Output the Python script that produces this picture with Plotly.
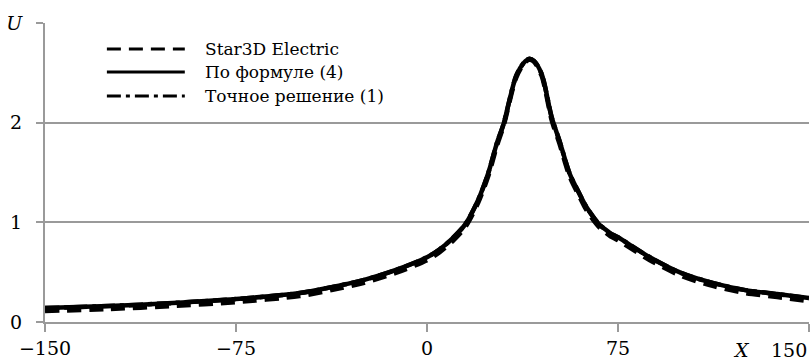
import plotly.graph_objects as go

# ---- data ----
x_vals = [-150, -125, -100, -75, -50, -37.5, -25, -12.5, 0, 5, 10, 15, 20, 24, 27.5, 30,
          35, 38, 40, 42, 45, 49, 52, 56, 60, 62, 64, 66, 68, 70, 72, 75, 87.5, 100, 112.5,
          125, 137.5, 150]

star3d = [0.11, 0.13, 0.16, 0.20, 0.26, 0.32, 0.39, 0.49, 0.62, 0.70, 0.81, 0.95, 1.19, 1.46,
          1.77, 1.96, 2.45, 2.59, 2.63, 2.61, 2.47, 2.02, 1.79, 1.46, 1.25, 1.15, 1.07, 1.00,
          0.94, 0.90, 0.86, 0.82, 0.62, 0.46, 0.36, 0.29, 0.25, 0.21]

formula4 = [0.14, 0.16, 0.19, 0.23, 0.29, 0.35, 0.42, 0.52, 0.65, 0.73, 0.84, 0.98, 1.22, 1.49,
            1.80, 1.98, 2.47, 2.60, 2.64, 2.62, 2.49, 2.05, 1.82, 1.49, 1.28, 1.18, 1.10, 1.03,
            0.97, 0.93, 0.89, 0.85, 0.65, 0.49, 0.39, 0.32, 0.28, 0.24]

exact1 = [0.14, 0.16, 0.19, 0.23, 0.29, 0.35, 0.42, 0.52, 0.65, 0.73, 0.84, 0.98, 1.22, 1.49,
          1.80, 1.98, 2.47, 2.60, 2.64, 2.62, 2.49, 2.05, 1.82, 1.49, 1.28, 1.18, 1.10, 1.03,
          0.97, 0.93, 0.89, 0.85, 0.65, 0.49, 0.39, 0.32, 0.28, 0.24]

series_names = ["Star3D Electric", "По формуле (4)", "Точное решение (1)"]
series_dash = ["14px,8px", "solid", "14px,5px,4px,5px"]

x_ticks = [-150, -75, 0, 75, 150]
x_ticktext = ["\u2212150", "\u221275", "0", "75", ""]
y_ticks = [0, 1, 2, 3]
y_ticktext = ["0", "1", "2", "<i>U</i>"]

FONT = "DejaVu Serif"
GRID = "#9a9a9a"

fig = go.Figure()
for name, ys, dash in zip(series_names, [star3d, formula4, exact1], series_dash):
    fig.add_trace(go.Scatter(
        x=x_vals, y=ys, mode="lines", name=name,
        line=dict(color="black", width=4.5, dash=dash, shape="spline", smoothing=0.8),
        showlegend=False,
    ))

# manual legend (long line samples like the reference)
leg_y = [0.913, 0.836, 0.756]
for name, dash, yy in zip(series_names, series_dash, leg_y):
    fig.add_shape(type="line", xref="paper", yref="paper", x0=0.081, x1=0.183, y0=yy, y1=yy,
                  line=dict(color="black", width=3, dash=dash))
    fig.add_annotation(xref="paper", yref="paper", x=0.207, y=yy, text=name, showarrow=False,
                       xanchor="left", yanchor="middle", font=dict(family=FONT, size=17, color="black"))

# right-end x label shifted inside, and axis name X
fig.add_annotation(xref="x", yref="paper", x=150, y=-0.094, text="150", showarrow=False,
                   xanchor="right", yanchor="middle", font=dict(family=FONT, size=19, color="black"))
fig.add_annotation(xref="x", yref="paper", x=123.5, y=-0.094, text="<i>X</i>", showarrow=False,
                   xanchor="center", yanchor="middle", font=dict(family=FONT, size=19, color="black"))

fig.update_xaxes(range=[-150, 150], tickvals=x_ticks, ticktext=x_ticktext,
                 showgrid=False, zeroline=False, showline=True, linecolor=GRID, linewidth=2,
                 ticks="outside", ticklen=8, tickcolor=GRID, tickwidth=1.5,
                 tickfont=dict(family=FONT, size=19, color="black"))
fig.update_yaxes(range=[0, 3], tickvals=y_ticks, ticktext=y_ticktext,
                 showgrid=True, gridcolor=GRID, gridwidth=1.5, zeroline=False,
                 showline=True, linecolor=GRID, linewidth=2,
                 ticks="outside", ticklen=7, tickcolor=GRID, tickwidth=1.5,
                 ticklabelstandoff=10,
                 tickfont=dict(family=FONT, size=19, color="black"))

fig.update_layout(
    width=811, height=360,
    margin=dict(l=45, r=2, t=23, b=38),
    paper_bgcolor="white", plot_bgcolor="white",
    font=dict(family=FONT, color="black"),
    showlegend=False,
)

fig.write_html("out.html")
